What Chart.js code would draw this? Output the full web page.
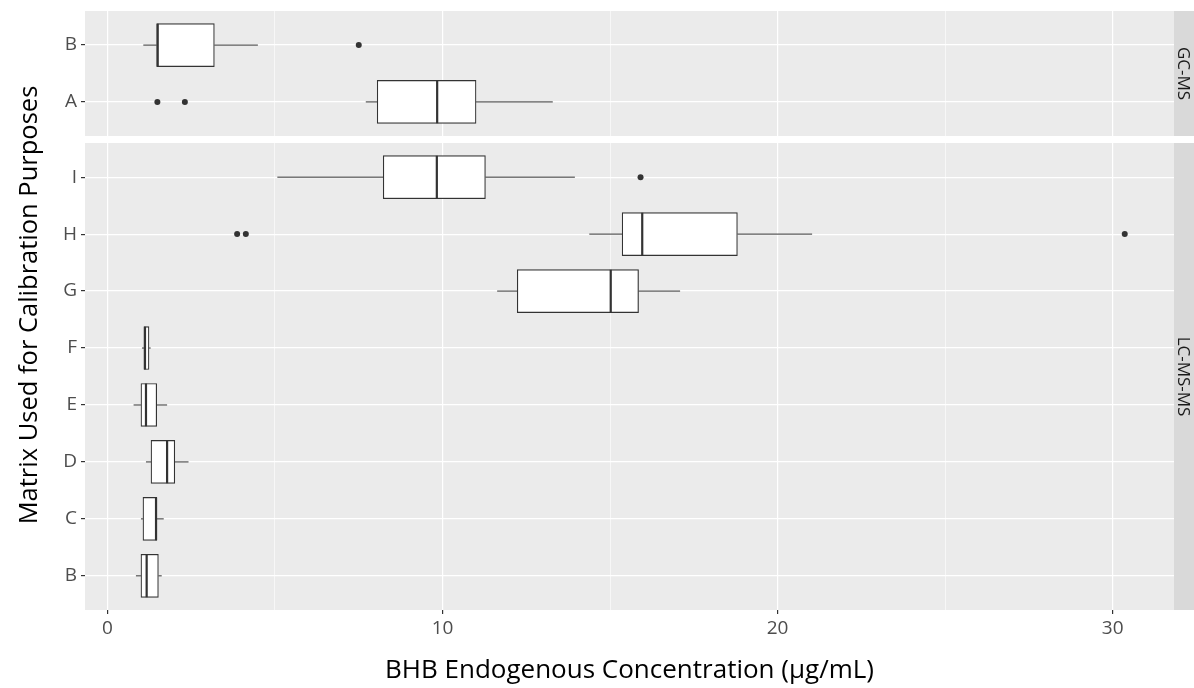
<!DOCTYPE html>
<html>
<head>
<meta charset="utf-8">
<title>BHB endogenous concentration by calibration matrix</title>
<script src="https://cdn.jsdelivr.net/npm/chart.js@4.4.1/dist/chart.umd.min.js"></script>
<style>
  html, body { margin: 0; padding: 0; background: #ffffff; }
  #wrap { position: relative; width: 1194px; height: 688px; }
  #wrap canvas { position: absolute; left: 0; top: 0; }
</style>
</head>
<body>
<div id="wrap">
  <canvas id="lcChart" width="1194" height="688"></canvas>
  <canvas id="gcChart" width="1194" height="688"></canvas>
</div>
<script>
// ---- GC-MS panel (top to bottom) ----
const gcLabels   = ['B', 'A'];
const gcLow      = [1.07, 7.71];
const gcQ1       = [1.47, 8.05];
const gcMedian   = [1.50, 9.84];
const gcQ3       = [3.19, 11.00];
const gcHigh     = [4.49, 13.29];
const gcOutliers = [[7.50], [1.49, 2.31]];

// ---- LC-MS-MS panel (top to bottom) ----
const lcLabels   = ['I', 'H', 'G', 'F', 'E', 'D', 'C', 'B'];
const lcLow      = [5.07, 14.38, 11.63, 1.03, 0.78, 1.15, 1.00, 0.85];
const lcQ1       = [8.23, 15.36, 12.23, 1.09, 1.00, 1.30, 1.06, 1.00];
const lcMedian   = [9.83, 15.96, 15.02, 1.12, 1.15, 1.78, 1.45, 1.17];
const lcQ3       = [11.28, 18.80, 15.85, 1.24, 1.47, 2.01, 1.47, 1.52];
const lcHigh     = [13.95, 21.03, 17.09, 1.29, 1.78, 2.42, 1.68, 1.62];
const lcOutliers = [[15.91], [3.87, 4.13, 30.36], [], [], [], [], [], []];

// ---- axis ----
const xTickValues = [0, 5, 10, 15, 20, 25, 30];
const xMin = -0.67;
const xMax = 31.83;
const xTitle = 'BHB Endogenous Concentration (\u00b5g/mL)';
const yTitle = 'Matrix Used for Calibration Purposes';

// ---- layout / style ----
const FONT = "'Open Sans', 'DejaVu Sans', sans-serif";
const AXIS_W = 85;        // width reserved left of the panels
const STRIP_W = 20;       // facet strip on the right
const GC_TOP = 11, GC_BOTTOM = 136;
const LC_TOP = 143, LC_BOTTOM = 610;
const CANVAS_H = 688;
const Y_TITLE_X = 30, Y_TITLE_Y = 305;
const BOX_HALF = 0.375;   // half box height in category units
const INK = '#333333';

Chart.defaults.font.family = FONT;
Chart.defaults.animation = false;

const panelBackground = {
  id: 'panelBackground',
  beforeDraw(chart) {
    const { ctx, chartArea: a } = chart;
    ctx.save();
    ctx.fillStyle = '#EBEBEB';
    ctx.fillRect(a.left, a.top, a.right - a.left, a.bottom - a.top);
    ctx.restore();
  }
};

const facetStrip = {
  id: 'facetStrip',
  afterDraw(chart, args, opts) {
    const { ctx, chartArea: a } = chart;
    ctx.save();
    ctx.fillStyle = '#D9D9D9';
    ctx.fillRect(a.right, a.top, STRIP_W, a.bottom - a.top);
    ctx.translate(a.right + STRIP_W / 2, (a.top + a.bottom) / 2);
    ctx.rotate(Math.PI / 2);
    ctx.fillStyle = '#1A1A1A';
    ctx.font = '17px ' + FONT;
    ctx.textAlign = 'center';
    ctx.textBaseline = 'middle';
    ctx.fillText(opts.text, 0, 1);
    ctx.restore();
  }
};

const sharedYTitle = {
  id: 'sharedYTitle',
  afterDraw(chart, args, opts) {
    if (!opts.text) return;
    const { ctx } = chart;
    ctx.save();
    ctx.translate(Y_TITLE_X, Y_TITLE_Y);
    ctx.rotate(-Math.PI / 2);
    ctx.fillStyle = '#000000';
    ctx.font = '25.5px ' + FONT;
    ctx.textAlign = 'center';
    ctx.textBaseline = 'middle';
    ctx.fillText(opts.text, 0, 0);
    ctx.restore();
  }
};

function boxDatasets(labels, low, q1, med, q3, high, outliers) {
  const whiskers = [];
  const medians = [];
  const points = [];
  labels.forEach((_, i) => {
    const y = i + 1;
    whiskers.push({ x: low[i], y }, { x: q1[i], y }, { x: null, y: null },
                  { x: q3[i], y }, { x: high[i], y }, { x: null, y: null });
    medians.push({ x: med[i], y: y - BOX_HALF }, { x: med[i], y: y + BOX_HALF }, { x: null, y: null });
    outliers[i].forEach(v => points.push({ x: v, y }));
  });
  return [
    {
      type: 'line', data: whiskers, borderColor: INK, borderWidth: 1,
      pointRadius: 0, spanGaps: false, fill: false, order: 4
    },
    {
      type: 'bar', indexAxis: 'y',
      data: labels.map((_, i) => ({ y: i + 1, x: [q1[i], q3[i]] })),
      backgroundColor: '#FFFFFF', borderColor: INK, borderWidth: 1.2,
      borderSkipped: false, barThickness: 43, order: 3
    },
    {
      type: 'line', data: medians, borderColor: INK, borderWidth: 2.2,
      pointRadius: 0, spanGaps: false, fill: false, order: 2
    },
    {
      type: 'scatter', data: points, pointRadius: 3, pointBackgroundColor: INK,
      pointBorderWidth: 0, borderColor: INK, order: 1
    }
  ];
}

function panelConfig(labels, stats, opts) {
  const n = labels.length;
  return {
    type: 'bar',
    data: { datasets: boxDatasets(labels, ...stats) },
    plugins: [panelBackground, facetStrip, sharedYTitle],
    options: {
      responsive: false,
      animation: false,
      layout: { padding: { left: 0, right: STRIP_W, top: opts.top, bottom: opts.bottomPad } },
      plugins: {
        legend: { display: false },
        tooltip: { enabled: false },
        facetStrip: { text: opts.strip },
        sharedYTitle: { text: opts.yTitle || '' }
      },
      scales: {
        x: {
          type: 'linear', min: xMin, max: xMax, offset: false,
          afterBuildTicks(scale) { scale.ticks = xTickValues.map(v => ({ value: v })); },
          afterFit(scale) { scale.height = opts.xHeight; },
          border: { display: false },
          grid: {
            offset: false,
            color: '#FFFFFF',
            lineWidth: c => (c.tick && c.tick.value % 10 === 0) ? 1.2 : 0.6,
            drawTicks: opts.showX,
            tickLength: 4,
            tickColor: c => (c.tick && c.tick.value % 10 === 0) ? INK : 'rgba(0,0,0,0)'
          },
          ticks: {
            display: opts.showX, autoSkip: false, maxRotation: 0, padding: 3,
            color: '#4D4D4D', font: { size: 19 },
            callback: v => (v % 10 === 0 ? String(v) : '')
          },
          title: {
            display: opts.showX, text: xTitle, color: '#000000',
            font: { size: 26 }, padding: { top: 0, bottom: 2 }
          }
        },
        y: {
          type: 'linear', reverse: true, min: 0.4, max: n + 0.6, offset: false,
          afterBuildTicks(scale) { scale.ticks = labels.map((_, i) => ({ value: i + 1 })); },
          afterFit(scale) {
            scale.width = AXIS_W;
            scale.paddingTop = 0;
            scale.paddingBottom = 0;
          },
          border: { display: false },
          grid: { offset: false, color: '#FFFFFF', lineWidth: 1.2, tickLength: 4, tickColor: INK },
          ticks: {
            autoSkip: false, padding: 4, color: '#4D4D4D', font: { size: 19 },
            callback: v => labels[Math.round(v) - 1] || ''
          }
        }
      }
    }
  };
}

new Chart(document.getElementById('lcChart'), panelConfig(
  lcLabels, [lcLow, lcQ1, lcMedian, lcQ3, lcHigh, lcOutliers],
  { top: LC_TOP, bottomPad: 0, xHeight: CANVAS_H - LC_BOTTOM, showX: true, strip: 'LC-MS-MS', yTitle: yTitle }
));

new Chart(document.getElementById('gcChart'), panelConfig(
  gcLabels, [gcLow, gcQ1, gcMedian, gcQ3, gcHigh, gcOutliers],
  { top: GC_TOP, bottomPad: CANVAS_H - GC_BOTTOM, xHeight: 0, showX: false, strip: 'GC-MS' }
));
</script>
</body>
</html>
